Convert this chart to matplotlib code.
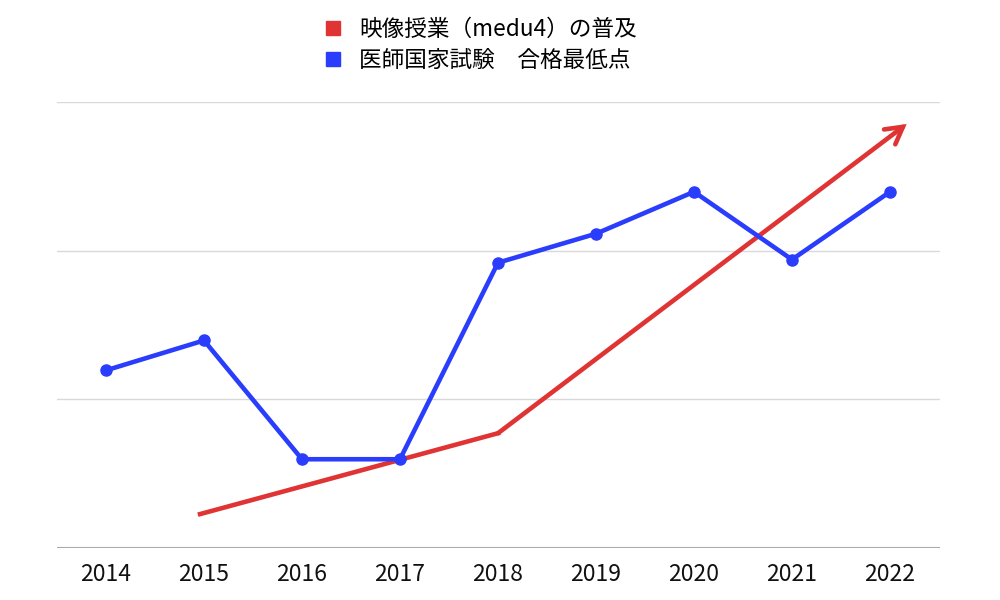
import matplotlib
matplotlib.use("Agg")
import matplotlib.pyplot as plt
from matplotlib.lines import Line2D

plt.rcParams["font.family"] = ["Noto Sans CJK JP", "DejaVu Sans"]

years = [2014, 2015, 2016, 2017, 2018, 2019, 2020, 2021, 2022]
score = [1.195, 1.396, 0.597, 0.597, 1.919, 2.114, 2.396, 1.940, 2.396]

# red trend line (hand drawn arrow in the original)
trend_x = [2014.96, 2018, 2022.17]
trend_y = [0.228, 0.772, 2.852]

labels = ["映像授業（medu4）の普及", "医師国家試験　合格最低点"]
red = "#e03434"
blue = "#2a3dfc"

fig = plt.figure(figsize=(10, 6), dpi=100)
ax = fig.add_axes([0.057, 0.0867, 0.883, 0.7433])

for y in [1, 2, 3]:
    ax.axhline(y, color="#d9d9d9", linewidth=1, zorder=0)
ax.axhline(0, color="#aaaaaa", linewidth=1.5, zorder=0)

ax.plot(years, score, color=blue, linewidth=3.3, marker="o", markersize=8,
        solid_capstyle="round", zorder=3)

ax.plot(trend_x[:2], trend_y[:2], color=red, linewidth=3.3, zorder=2)
ax.annotate("", xy=(trend_x[2], trend_y[2]), xytext=(trend_x[1], trend_y[1]),
            arrowprops=dict(arrowstyle="->,head_length=0.75,head_width=0.42",
                            mutation_scale=16, color=red, linewidth=3.3,
                            shrinkA=0, shrinkB=0, joinstyle="miter"),
            zorder=2)

ax.set_xlim(2013.5, 2022.51)
ax.set_ylim(0, 3)
ax.set_xticks(years)
ax.set_xticklabels([str(y) for y in years], fontsize=16.5, color="#111111")
ax.set_yticks([])
ax.tick_params(axis="x", length=0, pad=11)
for s in ax.spines.values():
    s.set_visible(False)

handles = [Line2D([], [], marker="s", linestyle="", color=red, markersize=10),
           Line2D([], [], marker="s", linestyle="", color=blue, markersize=10)]
fig.legend(handles, labels, loc="upper center", bbox_to_anchor=(0.48, 1.0),
           frameon=False, fontsize=16.3, handletextpad=0.7, labelspacing=0.33,
           handlelength=0.9, borderpad=0.3)

fig.savefig("out.png", dpi=100)
